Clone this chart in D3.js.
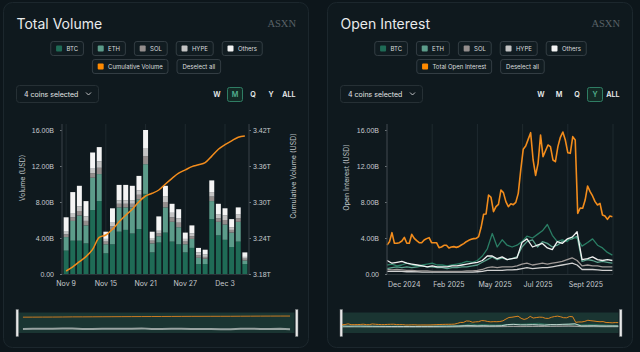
<!DOCTYPE html>
<html>
<head>
<meta charset="utf-8">
<script src="https://cdn.jsdelivr.net/npm/d3@7"></script>
<style>
  html, body { margin: 0; background: #0d161b; }
  svg { display: block; font-family: Inter, "Noto Sans", sans-serif; }
</style>
</head>
<body>
<svg width="640" height="352"></svg>
<script>
// ---- data ----
const coins = ["BTC", "ETH", "SOL", "HYPE", "Others"];
const coinColors = ["#1f6b56", "#5c9c8a", "#948e8d", "#c4c4c4", "#f4f4f4"];
const lineColors = ["#2a7d64", "#5aa08c", "#a09a98", "#d0d0d0", "#f2f2f2"];
const orange = "#f28c1c";

// daily volume, billions USD (Nov 9 - Dec 6)
const btcVol = [2.6, 3.7, 3.7, 3.4, 7.1, 8.1, 2.3, 3.3, 4.7, 4.9, 4.5, 5.0, 8.9, 2.4, 3.5, 4.6, 3.6, 3.3, 2.4, 2.9, 1.1, 1.1, 6.1, 4.3, 3.8, 3.0, 3.6, 1.1];
const ethVol = [1.5, 2.2, 2.8, 2.0, 3.6, 3.0, 1.0, 1.6, 2.7, 2.5, 2.9, 3.3, 3.3, 1.0, 0.7, 2.8, 2.2, 1.9, 0.9, 1.0, 0.7, 0.6, 2.0, 1.5, 1.7, 1.6, 2.2, 0.4];
const solVol = [0.3, 0.4, 0.5, 0.5, 0.5, 0.7, 0.3, 0.4, 0.4, 0.4, 0.4, 0.5, 0.9, 0.3, 0.3, 0.6, 0.5, 0.5, 0.3, 0.3, 0.3, 0.2, 0.5, 0.4, 0.5, 0.3, 0.4, 0.2];
const hypeVol = [0.3, 0.4, 0.5, 0.5, 0.5, 0.7, 0.3, 0.4, 0.4, 0.4, 0.4, 0.5, 0.9, 0.3, 0.3, 0.6, 0.5, 0.5, 0.3, 0.3, 0.3, 0.3, 0.5, 0.4, 0.5, 0.3, 0.4, 0.2];
const othersVol = [1.6, 2.4, 2.3, 1.7, 1.8, 1.6, 0.8, 1.6, 1.7, 1.7, 1.6, 1.6, 2.0, 0.7, 1.6, 1.2, 1.0, 1.0, 0.7, 0.9, 0.5, 0.5, 1.3, 1.2, 0.8, 0.9, 0.8, 0.5];
// cumulative volume, trillions USD
const cumVol = [3.185, 3.192, 3.2005, 3.209, 3.221, 3.241, 3.245, 3.2545, 3.267, 3.278, 3.288, 3.3005, 3.310, 3.3145, 3.320, 3.330, 3.3395, 3.348, 3.3535, 3.359, 3.362, 3.3655, 3.3765, 3.388, 3.3955, 3.402, 3.408, 3.410];
const volTickDays = ["2025-11-09", "2025-11-15", "2025-11-21", "2025-11-27", "2025-12-03"];
const volTickLabels = ["Nov 9", "Nov 15", "Nov 21", "Nov 27", "Dec 3"];
const volTicks = [0, 4, 8, 12, 16];
const cumTicks = [3.18, 3.24, 3.30, 3.36, 3.42];

// open interest, billions USD; total every 4 days, coins every ~8 days
const oiTotal = [3.22, 3.59, 4.59, 3.41, 3.41, 3.48, 3.67, 4.07, 3.41, 3.41,
  4.41, 3.96, 3.70, 3.48, 3.48, 3.78, 3.93, 4.04, 3.48, 3.48,
  3.48, 2.93, 3.00, 3.19, 3.19, 2.89, 3.00, 3.04, 2.96, 3.04,
  3.22, 3.37, 3.59, 3.74, 3.85, 3.93, 3.96, 4.15, 5.19, 6.63,
  6.67, 8.78, 8.52, 6.93, 7.48, 7.74, 9.33, 9.04, 8.04, 7.48,
  7.81, 7.70, 7.96, 8.96, 11.56, 13.85, 14.22, 14.96, 15.70, 12.67,
  10.96, 12.30, 15.44, 13.04, 13.70, 14.33, 14.15, 12.67, 12.48, 14.15,
  15.19, 15.78, 14.89, 13.48, 13.41, 15.26, 14.89, 6.74, 7.33, 7.30,
  8.22, 9.78, 9.15, 8.67, 8.04, 7.67, 7.85, 6.56, 6.44, 6.07,
  6.44, 6.37];
const oiBTC = [1.0, 1.1, 0.9, 1.0, 1.2, 1.0, 0.9, 1.0, 1.1, 1.2, 1.0, 1.0, 0.9, 1.0, 1.1, 1.2, 1.4, 1.3, 1.5, 2.0, 2.8, 4.5, 3.0, 3.8, 3.2, 3.0, 3.2, 3.6, 4.2, 4.0, 4.4, 4.8, 5.5, 4.3, 3.6, 3.8, 3.6, 4.1, 4.0, 3.1, 3.5, 3.9, 3.2, 2.9, 2.4, 2.1];
const oiETH = [0.6, 0.7, 0.8, 0.7, 0.8, 0.7, 0.8, 0.9, 0.8, 0.8, 0.7, 0.7, 0.6, 0.7, 0.7, 0.8, 0.8, 0.9, 1.0, 1.3, 1.6, 1.9, 1.6, 1.8, 1.6, 1.7, 1.9, 3.0, 3.6, 3.8, 3.0, 3.6, 3.4, 3.0, 3.2, 3.6, 3.8, 3.9, 4.2, 1.4, 1.6, 1.5, 1.3, 1.4, 1.3, 1.2];
const oiSOL = [0.5, 0.45, 0.5, 0.45, 0.4, 0.4, 0.35, 0.35, 0.35, 0.3, 0.3, 0.3, 0.3, 0.3, 0.3, 0.3, 0.35, 0.35, 0.4, 0.5, 0.7, 0.8, 0.7, 0.8, 0.8, 0.8, 0.9, 1.1, 1.2, 1.0, 1.1, 1.2, 1.1, 1.2, 1.3, 1.4, 1.6, 1.8, 1.5, 0.9, 1.0, 0.9, 0.9, 0.8, 0.8, 0.8];
const oiHYPE = [0.3, 0.3, 0.3, 0.3, 0.25, 0.25, 0.25, 0.2, 0.2, 0.2, 0.2, 0.2, 0.2, 0.2, 0.2, 0.2, 0.2, 0.2, 0.25, 0.3, 0.4, 0.4, 0.4, 0.4, 0.45, 0.45, 0.5, 0.6, 0.7, 0.6, 0.65, 0.7, 0.7, 0.8, 0.9, 1.0, 1.1, 1.2, 1.0, 0.5, 0.5, 0.5, 0.45, 0.4, 0.4, 0.4];
const oiOthers = [1.5, 1.2, 1.3, 1.4, 1.2, 1.1, 1.0, 0.9, 0.8, 0.9, 0.8, 0.8, 0.8, 0.9, 0.9, 1.0, 1.1, 1.2, 1.3, 1.5, 2.0, 2.0, 1.7, 1.9, 1.6, 1.7, 1.8, 3.5, 3.9, 3.0, 3.2, 3.4, 2.9, 2.7, 3.6, 3.4, 3.9, 4.1, 4.7, 1.6, 1.7, 1.9, 1.6, 1.5, 1.6, 1.5];
const oiTickDays = ["2024-12-06", "2025-02-17", "2025-05-01", "2025-07-13", "2025-09-24"];
const oiTickLabels = ["Dec 2024", "Feb 2025", "May 2025", "Jul 2025", "Sept 2025"];
const oiTicks = [0, 4, 8, 12, 16];
const periods = ["W", "M", "Q", "Y", "ALL"];

// ---- helpers ----
const svg = d3.select("svg");
const parse = d3.timeParse("%Y-%m-%d");
const panelW = 306, panelH = 346;
const fmtB = d => d === 0 ? "0.00" : d.toFixed(2) + "B";

function legendRow(g, items, y) {
  const row = g.append("g");
  const btns = items.map(it => {
    const b = row.append("g");
    const rect = b.append("rect").attr("height", 14).attr("rx", 2.5)
      .attr("fill", "#111c21").attr("stroke", "#333d43");
    const tx = it.color ? 15.7 : 5.5;
    const t = b.append("text").attr("x", tx).attr("y", 9.3)
      .attr("font-size", 6).attr("fill", "#d9dcde").text(it.label);
    const w = tx + t.node().getComputedTextLength() + 5.3;
    rect.attr("width", w);
    if (it.color) b.append("rect").attr("x", 5.3).attr("y", 4).attr("width", 6).attr("height", 6)
      .attr("rx", 1).attr("fill", it.color);
    return { b, w };
  });
  const gap = 9;
  const total = d3.sum(btns, d => d.w) + gap * (btns.length - 1);
  let x = panelW / 2 - total / 2;
  btns.forEach(d => { d.b.attr("transform", `translate(${x + 0.5},${y + 0.5})`); x += d.w + gap; });
}

function panel(px, title, lineLabel, active) {
  const g = svg.append("g").attr("transform", `translate(${px},0)`);
  g.append("rect").attr("x", 0.5).attr("y", 2.5).attr("width", panelW - 1).attr("height", panelH - 1)
    .attr("rx", 9).attr("fill", "#0f191e").attr("stroke", "#1c272d");
  g.append("text").attr("x", 13.5).attr("y", 29).attr("font-size", 14)
    .attr("fill", "#e9ebec").text(title);
  g.append("text").attr("x", 293).attr("y", 26.5).attr("text-anchor", "end")
    .attr("font-family", "Liberation Serif, DejaVu Serif, serif").attr("font-size", 10.5)
    .attr("fill", "#596166").text("ASXN");

  legendRow(g, coins.map((c, i) => ({ label: c, color: coinColors[i] })), 41);
  legendRow(g, [{ label: lineLabel, color: "#ff8a00" }, { label: "Deselect all" }], 59);

  // dropdown
  g.append("rect").attr("x", 13.5).attr("y", 85.5).attr("width", 82).attr("height", 17).attr("rx", 3)
    .attr("fill", "#101a1f").attr("stroke", "#263035");
  g.append("text").attr("x", 21).attr("y", 96.5).attr("font-size", 7).attr("fill", "#e3e5e6")
    .text("4 coins selected");
  g.append("path").attr("d", "M83,92.5 L85.5,95 L88,92.5").attr("fill", "none")
    .attr("stroke", "#d0d3d5").attr("stroke-width", 0.9);

  // period buttons
  periods.forEach((p, i) => {
    const cx = 286 - (4 - i) * 18;
    if (p === active) {
      g.append("rect").attr("x", cx - 7.5).attr("y", 87.5).attr("width", 15).attr("height", 14)
        .attr("rx", 2).attr("fill", "#132a25").attr("stroke", "#2f7d64");
    }
    g.append("text").attr("x", cx).attr("y", 97.2).attr("text-anchor", "middle")
      .attr("font-size", 7.2).attr("font-weight", 600)
      .attr("fill", p === active ? "#52b08f" : "#eceeef").text(p);
  });

  // brush frame
  g.append("rect").attr("x", 14.5).attr("y", 312.5).attr("width", 277).attr("height", 20.5)
    .attr("fill", "#1a3532");
  return g;
}

function handles(g) {
  [13, 292.5].forEach(x => g.append("rect").attr("x", x).attr("y", 309.5).attr("width", 2.5)
    .attr("height", 27).attr("fill", "#e8e8e8").attr("stroke", "#6f7679").attr("stroke-width", 0.5));
}

function axisText(sel) {
  sel.selectAll("text").attr("font-size", 7).attr("fill", "#c7cbce").attr("font-family", null);
}

// ---- left: Total Volume ----
const leftG = panel(3, "Total Volume", "Cumulative Volume", "M");
const volDays = d3.timeDay.range(new Date(2025, 10, 9), new Date(2025, 11, 7));
const volRows = volDays.map((d, i) => ({
  date: d, BTC: btcVol[i], ETH: ethVol[i], SOL: solVol[i], HYPE: hypeVol[i], Others: othersVol[i]
}));

const xv = d3.scaleBand().domain(volDays).range([62, 249]).padding(0.25);
const yv = d3.scaleLinear().domain([0, 16]).range([274, 130]);
const yc = d3.scaleLinear().domain([3.18, 3.42]).range([274, 130]);
const vg = svg.append("g");

// grid
vg.selectAll(".vgrid").data(volTickDays.map(parse)).enter().append("line")
  .attr("x1", d => xv(d) + xv.bandwidth() / 2).attr("x2", d => xv(d) + xv.bandwidth() / 2)
  .attr("y1", 124).attr("y2", 274).attr("stroke", "#1f2a2f");

const stack = d3.stack().keys(coins)(volRows);
vg.selectAll(".layer").data(stack).enter().append("g")
  .attr("fill", (d, i) => coinColors[i])
  .selectAll("rect").data(d => d).enter().append("rect")
  .attr("x", d => xv(d.data.date)).attr("width", xv.bandwidth())
  .attr("y", d => yv(d[1])).attr("height", d => yv(d[0]) - yv(d[1]));

vg.append("path").datum(cumVol)
  .attr("fill", "none").attr("stroke", orange).attr("stroke-width", 1.5)
  .attr("d", d3.line().x((d, i) => xv(volDays[i]) + xv.bandwidth() / 2).y(d => yc(d)).curve(d3.curveMonotoneX));

const yvAxis = vg.append("g").attr("transform", "translate(62,0)")
  .call(d3.axisLeft(yv).tickValues(volTicks).tickFormat(fmtB).tickSize(2).tickPadding(6));
const ycAxis = vg.append("g").attr("transform", "translate(249,0)")
  .call(d3.axisRight(yc).tickValues(cumTicks).tickFormat(d => d.toFixed(2) + "T").tickSize(2).tickPadding(2));
[yvAxis, ycAxis].forEach(a => {
  a.select(".domain").remove();
  a.selectAll("line").attr("stroke", "#6a7276");
  axisText(a);
});
[62, 249].forEach(x => vg.append("line").attr("x1", x).attr("x2", x).attr("y1", 124).attr("y2", 274)
  .attr("stroke", "#3a4348"));
vg.append("line").attr("x1", 62).attr("x2", 249).attr("y1", 274.5).attr("y2", 274.5).attr("stroke", "#2a3338");

vg.selectAll(".xl").data(volTickDays).enter().append("text")
  .attr("x", d => xv(parse(d)) + xv.bandwidth() / 2).attr("y", 286)
  .attr("text-anchor", "middle").attr("font-size", 7).attr("fill", "#c7cbce")
  .text((d, i) => volTickLabels[i]);

vg.append("text").attr("transform", "translate(24.5,178) rotate(-90)").attr("text-anchor", "middle")
  .attr("font-size", 7).attr("fill", "#bfc4c7").text("Volume (USD)");
vg.append("text").attr("transform", "translate(295.5,176) rotate(-90)").attr("text-anchor", "middle")
  .attr("font-size", 7).attr("fill", "#bfc4c7").text("Cumulative Volume (USD)");

// mini chart
const xvm = d3.scaleBand().domain(volDays).range([18, 295]);
const ycm = d3.scaleLinear().domain([0, 3.42]).range([333, 316]);
const yvm = d3.scaleLinear().domain([0, 300]).range([329.3, 312]);
vg.append("path").datum(volRows)
  .attr("fill", "none").attr("stroke", "#98a3a1").attr("stroke-width", 2)
  .attr("d", d3.line().x(d => xvm(d.date) + xvm.bandwidth() / 2)
    .y(d => yvm(d.BTC + d.ETH + d.SOL + d.HYPE + d.Others)));
vg.append("path").datum(cumVol)
  .attr("fill", "none").attr("stroke", "#c97a22").attr("stroke-width", 1)
  .attr("d", d3.line().x((d, i) => xvm(volDays[i]) + xvm.bandwidth() / 2).y(d => ycm(d)));
handles(leftG);

// ---- right: Open Interest ----
const rightG = panel(327, "Open Interest", "Total Open Interest", "Y");
const oiStart = new Date(2024, 11, 6), oiEnd = new Date(2025, 11, 6);
const totalDates = oiTotal.map((_, i) => d3.timeDay.offset(oiStart, i * 4));
const coinDates = oiBTC.map((_, j) => d3.timeDay.offset(oiStart, Math.round(j * 364 / 45)));
const coinSeries = [oiBTC, oiETH, oiSOL, oiHYPE, oiOthers];

const xo = d3.scaleTime().domain([oiStart, oiEnd]).range([387, 613]);
const yo = d3.scaleLinear().domain([0, 16]).range([274, 130]);
const og = svg.append("g");

og.selectAll(".ogrid").data(oiTickDays.map(parse).concat([oiEnd])).enter().append("line")
  .attr("x1", d => xo(d)).attr("x2", d => xo(d)).attr("y1", 124).attr("y2", 274)
  .attr("stroke", "#1f2a2f");

const drawOrder = [3, 2, 1, 0, 4];
function oiLines(g, xs, ys, widthCoin, widthTotal, opacity) {
  drawOrder.forEach(k => {
    g.append("path").datum(coinSeries[k])
      .attr("fill", "none").attr("stroke", lineColors[k]).attr("stroke-width", widthCoin)
      .attr("opacity", opacity).attr("stroke-linejoin", "round")
      .attr("d", d3.line().x((d, i) => xs(coinDates[i])).y(d => ys(d)));
  });
  g.append("path").datum(oiTotal)
    .attr("fill", "none").attr("stroke", orange).attr("stroke-width", widthTotal)
    .attr("stroke-linejoin", "round")
    .attr("d", d3.line().x((d, i) => xs(totalDates[i])).y(d => ys(d)));
}
oiLines(og, xo, yo, 1.3, 1.6, 1);

const yoAxis = og.append("g").attr("transform", "translate(387,0)")
  .call(d3.axisLeft(yo).tickValues(oiTicks).tickFormat(fmtB).tickSize(2).tickPadding(6));
yoAxis.select(".domain").remove();
yoAxis.selectAll("line").attr("stroke", "#6a7276");
axisText(yoAxis);
og.append("line").attr("x1", 387).attr("x2", 387).attr("y1", 124).attr("y2", 274).attr("stroke", "#3a4348");
og.append("line").attr("x1", 387).attr("x2", 613).attr("y1", 274.5).attr("y2", 274.5).attr("stroke", "#2a3338");

og.selectAll(".xl").data(oiTickDays).enter().append("text")
  .attr("x", d => xo(parse(d)) + 1).attr("y", 286.5)
  .attr("font-size", 7).attr("fill", "#c7cbce")
  .text((d, i) => oiTickLabels[i]);

og.append("text").attr("transform", "translate(349,177.5) rotate(-90)").attr("text-anchor", "middle")
  .attr("font-size", 7).attr("fill", "#bfc4c7").text("Open Interest (USD)");

const xom = d3.scaleTime().domain([oiStart, oiEnd]).range([342, 619]);
const yom = d3.scaleLinear().domain([0, 16]).range([327, 316]);
oiLines(og, xom, yom, 0.9, 0.9, 0.8);
handles(rightG);
</script>
</body>
</html>
